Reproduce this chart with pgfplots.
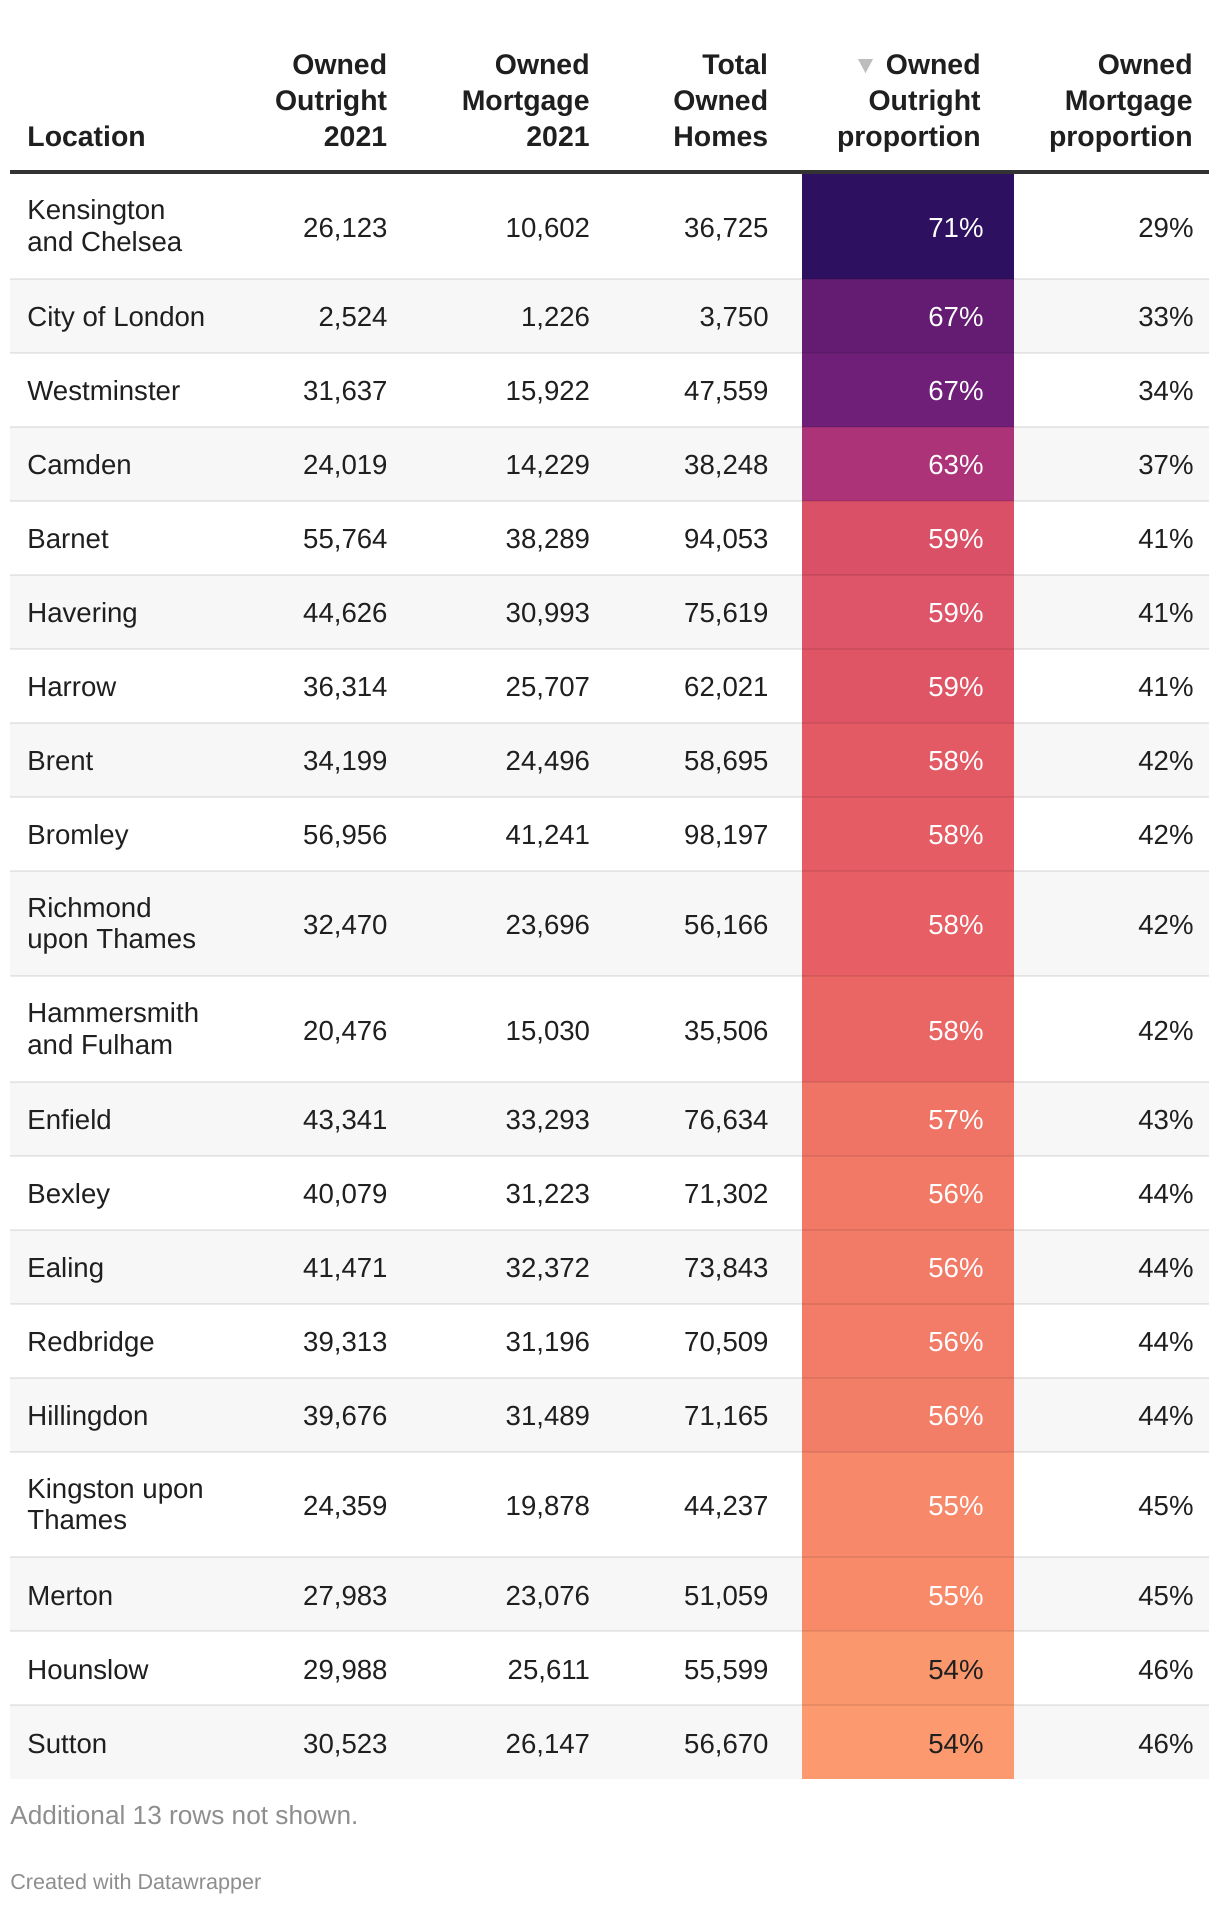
\documentclass[border=0pt]{standalone}
\usepackage{pgfplots}
\usepackage{pgfplotstable}
\pgfplotsset{compat=1.18}
\usepackage{fontspec}
\setmainfont{Liberation Sans}

\definecolor{txt}{HTML}{1F1F1F}
\definecolor{shade}{HTML}{F7F7F7}
\definecolor{rule}{HTML}{333333}
\definecolor{foot}{HTML}{8E8E8E}
\definecolor{tri}{HTML}{BDBDBD}
\definecolor{c01}{HTML}{2D1160}
\definecolor{c02}{HTML}{641C72}
\definecolor{c03}{HTML}{6F1F78}
\definecolor{c04}{HTML}{AD3378}
\definecolor{c05}{HTML}{DA5067}
\definecolor{c06}{HTML}{DE5468}
\definecolor{c07}{HTML}{E05566}
\definecolor{c08}{HTML}{E35A65}
\definecolor{c09}{HTML}{E55C64}
\definecolor{c10}{HTML}{E75F64}
\definecolor{c11}{HTML}{E96665}
\definecolor{c12}{HTML}{EF7465}
\definecolor{c13}{HTML}{F17966}
\definecolor{c14}{HTML}{F27B67}
\definecolor{c15}{HTML}{F27C67}
\definecolor{c16}{HTML}{F37E68}
\definecolor{c17}{HTML}{F7886A}
\definecolor{c18}{HTML}{F88A6A}
\definecolor{c19}{HTML}{FB976D}
\definecolor{c20}{HTML}{FC996E}

% row centre (pixel y), values
\pgfplotstableread{
yc outright mortgage total prop mprop
225.75 26123 10602 36725 71 29
315.5 2524 1226 3750 67 33
389.5 31637 15922 47559 67 34
463.5 24019 14229 38248 63 37
537.5 55764 38289 94053 59 41
611.5 44626 30993 75619 59 41
685.5 36314 25707 62021 59 41
759.5 34199 24496 58695 58 42
833.5 56956 41241 98197 58 42
923.25 32470 23696 56166 58 42
1028.75 20476 15030 35506 58 42
1118.5 43341 33293 76634 57 43
1192.5 40079 31223 71302 56 44
1266.5 41471 32372 73843 56 44
1340.5 39313 31196 70509 56 44
1414.5 39676 31489 71165 56 44
1504.25 24359 19878 44237 55 45
1594 27983 23076 51059 55 45
1668 29988 25611 55599 54 46
1742 30523 26147 56670 54 46
}\datatab

% location labels, one entry per printed line
\pgfplotstableread{
y name
208.45 Kensington
239.75 {and Chelsea}
315.5 {City of London}
389.5 Westminster
463.5 Camden
537.5 Barnet
611.5 Havering
685.5 Harrow
759.5 Brent
833.5 Bromley
905.95 Richmond
937.25 {upon Thames}
1011.45 Hammersmith
1042.75 {and Fulham}
1118.5 Enfield
1192.5 Bexley
1266.5 Ealing
1340.5 Redbridge
1414.5 Hillingdon
1486.95 {Kingston upon}
1518.25 Thames
1594 Merton
1668 Hounslow
1742 Sutton
}\loctab

% row separators
\pgfplotstableread{
x y
10 278.5
1209 278.5
nan nan
10 352.5
1209 352.5
nan nan
10 426.5
1209 426.5
nan nan
10 500.5
1209 500.5
nan nan
10 574.5
1209 574.5
nan nan
10 648.5
1209 648.5
nan nan
10 722.5
1209 722.5
nan nan
10 796.5
1209 796.5
nan nan
10 870.5
1209 870.5
nan nan
10 976
1209 976
nan nan
10 1081.5
1209 1081.5
nan nan
10 1155.5
1209 1155.5
nan nan
10 1229.5
1209 1229.5
nan nan
10 1303.5
1209 1303.5
nan nan
10 1377.5
1209 1377.5
nan nan
10 1451.5
1209 1451.5
nan nan
10 1557
1209 1557
nan nan
10 1631
1209 1631
nan nan
10 1705
1209 1705
}\septab

\newcommand{\bodyfont}{\fontsize{13.8}{16}\selectfont}
\newcommand{\headfont}{\fontsize{14.2}{17}\selectfont\bfseries}

\pgfplotsset{
  cell/.style={draw=none, mark=none, nodes near coords,
    every node near coord/.append style={anchor=base east, inner sep=0pt,
      yshift=-5.7pt, font=\bodyfont, text=txt}},
  numcell/.style={cell,
    nodes near coords={\pgfmathprintnumber[fixed,precision=0,1000 sep={,}]{\pgfplotspointmeta}}},
  pctcell/.style={cell,
    nodes near coords={\pgfmathprintnumber[fixed,precision=0]{\pgfplotspointmeta}\%}},
  box/.style={draw=none, mark=none, fill=#1},
}

\begin{document}
\begin{tikzpicture}
\begin{axis}[
  width=610pt, height=953pt, scale only axis,
  xmin=0, xmax=1220, ymin=0, ymax=1906, y dir=reverse,
  axis lines=none, ticks=none, clip=false,
  /pgf/number format/assume math mode=true,
]
% page background
\addplot[box=white] coordinates {(0,0)(1220,0)(1220,1906)(0,1906)} -- cycle;

% shaded (even) rows
\addplot[box=shade] coordinates {(10,278.5)(1209,278.5)(1209,352.5)(10,352.5)} -- cycle;
\addplot[box=shade] coordinates {(10,426.5)(1209,426.5)(1209,500.5)(10,500.5)} -- cycle;
\addplot[box=shade] coordinates {(10,574.5)(1209,574.5)(1209,648.5)(10,648.5)} -- cycle;
\addplot[box=shade] coordinates {(10,722.5)(1209,722.5)(1209,796.5)(10,796.5)} -- cycle;
\addplot[box=shade] coordinates {(10,870.5)(1209,870.5)(1209,976)(10,976)} -- cycle;
\addplot[box=shade] coordinates {(10,1081.5)(1209,1081.5)(1209,1155.5)(10,1155.5)} -- cycle;
\addplot[box=shade] coordinates {(10,1229.5)(1209,1229.5)(1209,1303.5)(10,1303.5)} -- cycle;
\addplot[box=shade] coordinates {(10,1377.5)(1209,1377.5)(1209,1451.5)(10,1451.5)} -- cycle;
\addplot[box=shade] coordinates {(10,1557)(1209,1557)(1209,1631)(10,1631)} -- cycle;
\addplot[box=shade] coordinates {(10,1705)(1209,1705)(1209,1779)(10,1779)} -- cycle;

% heat-coloured column
\addplot[box=c01] coordinates {(802,173)(1013.5,173)(1013.5,278.5)(802,278.5)} -- cycle;
\addplot[box=c02] coordinates {(802,278.5)(1013.5,278.5)(1013.5,352.5)(802,352.5)} -- cycle;
\addplot[box=c03] coordinates {(802,352.5)(1013.5,352.5)(1013.5,426.5)(802,426.5)} -- cycle;
\addplot[box=c04] coordinates {(802,426.5)(1013.5,426.5)(1013.5,500.5)(802,500.5)} -- cycle;
\addplot[box=c05] coordinates {(802,500.5)(1013.5,500.5)(1013.5,574.5)(802,574.5)} -- cycle;
\addplot[box=c06] coordinates {(802,574.5)(1013.5,574.5)(1013.5,648.5)(802,648.5)} -- cycle;
\addplot[box=c07] coordinates {(802,648.5)(1013.5,648.5)(1013.5,722.5)(802,722.5)} -- cycle;
\addplot[box=c08] coordinates {(802,722.5)(1013.5,722.5)(1013.5,796.5)(802,796.5)} -- cycle;
\addplot[box=c09] coordinates {(802,796.5)(1013.5,796.5)(1013.5,870.5)(802,870.5)} -- cycle;
\addplot[box=c10] coordinates {(802,870.5)(1013.5,870.5)(1013.5,976)(802,976)} -- cycle;
\addplot[box=c11] coordinates {(802,976)(1013.5,976)(1013.5,1081.5)(802,1081.5)} -- cycle;
\addplot[box=c12] coordinates {(802,1081.5)(1013.5,1081.5)(1013.5,1155.5)(802,1155.5)} -- cycle;
\addplot[box=c13] coordinates {(802,1155.5)(1013.5,1155.5)(1013.5,1229.5)(802,1229.5)} -- cycle;
\addplot[box=c14] coordinates {(802,1229.5)(1013.5,1229.5)(1013.5,1303.5)(802,1303.5)} -- cycle;
\addplot[box=c15] coordinates {(802,1303.5)(1013.5,1303.5)(1013.5,1377.5)(802,1377.5)} -- cycle;
\addplot[box=c16] coordinates {(802,1377.5)(1013.5,1377.5)(1013.5,1451.5)(802,1451.5)} -- cycle;
\addplot[box=c17] coordinates {(802,1451.5)(1013.5,1451.5)(1013.5,1557)(802,1557)} -- cycle;
\addplot[box=c18] coordinates {(802,1557)(1013.5,1557)(1013.5,1631)(802,1631)} -- cycle;
\addplot[box=c19] coordinates {(802,1631)(1013.5,1631)(1013.5,1705)(802,1705)} -- cycle;
\addplot[box=c20] coordinates {(802,1705)(1013.5,1705)(1013.5,1779)(802,1779)} -- cycle;

% row separators
\addplot[draw=black, draw opacity=0.08, line width=1pt, mark=none, unbounded coords=jump] table[x=x, y=y] {\septab};

% header rule
\addplot[draw=rule, line width=2pt, mark=none] coordinates {(10,172)(1209,172)};

% sort indicator triangle
\addplot[box=tri] coordinates {(858,59)(873,59)(865.5,73)} -- cycle;

% header text
\node[anchor=base west, inner sep=0pt, font=\headfont, text=txt] at (axis cs:27,146) {Location};
\node[anchor=base east, inner sep=0pt, font=\headfont, text=txt] at (axis cs:387.5,74) {Owned};
\node[anchor=base east, inner sep=0pt, font=\headfont, text=txt] at (axis cs:387.5,110) {Outright};
\node[anchor=base east, inner sep=0pt, font=\headfont, text=txt] at (axis cs:387.5,146) {2021};
\node[anchor=base east, inner sep=0pt, font=\headfont, text=txt] at (axis cs:590,74) {Owned};
\node[anchor=base east, inner sep=0pt, font=\headfont, text=txt] at (axis cs:590,110) {Mortgage};
\node[anchor=base east, inner sep=0pt, font=\headfont, text=txt] at (axis cs:590,146) {2021};
\node[anchor=base east, inner sep=0pt, font=\headfont, text=txt] at (axis cs:768.5,74) {Total};
\node[anchor=base east, inner sep=0pt, font=\headfont, text=txt] at (axis cs:768.5,110) {Owned};
\node[anchor=base east, inner sep=0pt, font=\headfont, text=txt] at (axis cs:768.5,146) {Homes};
\node[anchor=base east, inner sep=0pt, font=\headfont, text=txt] at (axis cs:981,74) {Owned};
\node[anchor=base east, inner sep=0pt, font=\headfont, text=txt] at (axis cs:981,110) {Outright};
\node[anchor=base east, inner sep=0pt, font=\headfont, text=txt] at (axis cs:981,146) {proportion};
\node[anchor=base east, inner sep=0pt, font=\headfont, text=txt] at (axis cs:1193,74) {Owned};
\node[anchor=base east, inner sep=0pt, font=\headfont, text=txt] at (axis cs:1193,110) {Mortgage};
\node[anchor=base east, inner sep=0pt, font=\headfont, text=txt] at (axis cs:1193,146) {proportion};

% location names
\addplot[cell, point meta=explicit symbolic,
  every node near coord/.append style={anchor=base west}]
  table[x expr=27, y=y, meta=name] {\loctab};

% numeric columns
\addplot[numcell, point meta=explicit] table[x expr=388, y=yc, meta=outright] {\datatab};
\addplot[numcell, point meta=explicit] table[x expr=590.5, y=yc, meta=mortgage] {\datatab};
\addplot[numcell, point meta=explicit] table[x expr=769, y=yc, meta=total] {\datatab};
\addplot[pctcell, point meta=explicit, skip coords between index={18}{20},
  every node near coord/.append style={text=white}]
  table[x expr=984, y=yc, meta=prop] {\datatab};
\addplot[pctcell, point meta=explicit, skip coords between index={0}{18}]
  table[x expr=984, y=yc, meta=prop] {\datatab};
\addplot[pctcell, point meta=explicit] table[x expr=1194, y=yc, meta=mprop] {\datatab};

% footer
\node[anchor=base west, inner sep=0pt, font=\fontsize{13.1}{15}\selectfont, text=foot] at (axis cs:10,1824) {Additional 13 rows not shown.};
\node[anchor=base west, inner sep=0pt, font=\fontsize{10.8}{13}\selectfont, text=foot] at (axis cs:10,1889) {Created with Datawrapper};
\end{axis}
\end{tikzpicture}
\end{document}
